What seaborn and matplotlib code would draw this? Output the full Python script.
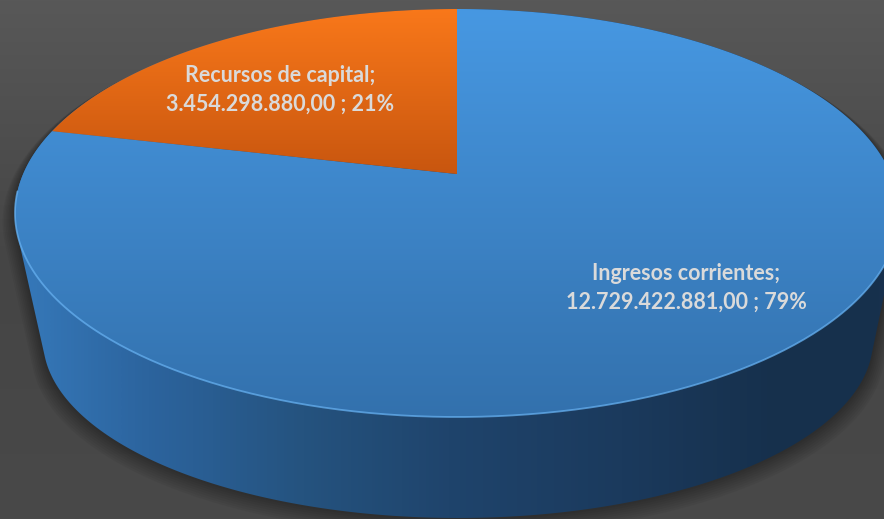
import numpy as np
import matplotlib
matplotlib.use("Agg")
import matplotlib.pyplot as plt
import seaborn as sns
from matplotlib.patches import Polygon
from matplotlib.colors import LinearSegmentedColormap

# data
categories = ["Ingresos corrientes", "Recursos de capital"]
values = [12729422881.00, 3454298880.00]

# look
TOP_COLORS = [("#4798e2", "#3371ad"), ("#f9781a", "#c8560f")]
SIDE_STOPS = [(0.0, "#3679ba"), (0.15, "#2c649e"), (0.33, "#25537f"),
              (0.5, "#1f446c"), (0.7, "#1b3a5d"), (0.88, "#16304c"), (1.0, "#17304d")]
TEXT_COLOR = "#dadada"

W, H = 884, 519
TOP = dict(cx=457, cy=213, a=442, b=204)
BOTTOM = dict(cx=458, cy=340, a=415, b=178)
K = 0.191          # perspective strength
LABEL_SHIFT = 4.5  # degrees
LABEL_FRAC = 0.68
LABEL_OFFSET = (5, -4)  # points

sns.set_theme(style="dark", rc={"axes.facecolor": "#4a4a4a", "figure.facecolor": "#4a4a4a"})
plt.rcParams["font.family"] = ["Lato", "DejaVu Sans"]


def project(theta_deg, level, frac=1.0):
    t = np.radians(theta_deg)
    x = frac * np.cos(t)
    y = frac * np.sin(t)
    w = 1 + K * y
    A = level["a"] * np.sqrt(1 - K ** 2)
    B = level["b"] * (1 - K ** 2)
    apex_y = level["cy"] - level["b"] * K
    return level["cx"] + A * x / w, apex_y - B * y / w


def hull(points):
    pts = sorted(set(map(tuple, np.round(points, 3))))
    def cross(o, a, b):
        return (a[0] - o[0]) * (b[1] - o[1]) - (a[1] - o[1]) * (b[0] - o[0])
    lower, upper = [], []
    for p in pts:
        while len(lower) >= 2 and cross(lower[-2], lower[-1], p) <= 0:
            lower.pop()
        lower.append(p)
    for p in reversed(pts):
        while len(upper) >= 2 and cross(upper[-2], upper[-1], p) <= 0:
            upper.pop()
        upper.append(p)
    return np.array(lower[:-1] + upper[:-1])


def gradient_fill(ax, poly_xy, cmap, horizontal=False, extent=None, zorder=2):
    patch = Polygon(poly_xy, closed=True, fc="none", ec="none", zorder=zorder)
    ax.add_patch(patch)
    g = np.linspace(0, 1, 256)
    grad = g[None, :] if horizontal else g[:, None]
    x0, x1, y0, y1 = extent
    im = ax.imshow(grad, extent=[x0, x1, y1, y0], cmap=cmap, aspect="auto",
                   interpolation="bilinear", zorder=zorder)
    im.set_clip_path(patch)
    return im


fig = plt.figure(figsize=(W / 100, H / 100), dpi=100)
ax = fig.add_axes([0, 0, 1, 1])

# background
bg = sns.blend_palette(["#585858", "#454545", "#494949"], as_cmap=True)
ax.imshow(np.linspace(0, 1, 256)[:, None], extent=[0, W, H, 0], cmap=bg,
          aspect="auto", zorder=0)

theta = np.linspace(0, 360, 721)
top_ring = np.column_stack(project(theta, TOP))
bot_ring = np.column_stack(project(theta, BOTTOM))
body = hull(np.vstack([top_ring, bot_ring]))

# soft shadow around the body
c = body.mean(axis=0)
for i in range(8, 0, -1):
    grow = body + (body - c) * 0.0035 * i + np.array([0, 1.2 * i])
    ax.add_patch(Polygon(grow, closed=True, fc="black", ec="none", alpha=0.045, zorder=1))

# side of the cylinder
side_cmap = LinearSegmentedColormap.from_list("side", SIDE_STOPS)
gradient_fill(ax, body, side_cmap, horizontal=True, extent=(15, 884, 0, H), zorder=2)

# top faces
total = sum(values)
start = 90.0
mids = []
apex = project(0, TOP, frac=0.0)
for val, (c_top, c_bot) in zip(values, TOP_COLORS):
    span = 360.0 * val / total
    arc = np.linspace(start, start - span, 400)
    ax_, ay_ = project(arc, TOP)
    poly = np.vstack([[apex[0], apex[1]], np.column_stack([ax_, ay_])])
    cmap = sns.blend_palette([c_top, c_bot], as_cmap=True)
    gradient_fill(ax, poly, cmap, extent=(0, W, poly[:, 1].min(), poly[:, 1].max()), zorder=3)
    mids.append(start - span / 2)
    start -= span

# rim highlight along the front edge
rim = np.linspace(185, 355, 300)
rx, ry = project(rim, TOP)
ax.plot(rx, ry, color="#66b0f0", lw=1.3, alpha=0.75, zorder=4, solid_capstyle="round")


def es_number(v):
    s = f"{v:,.2f}"
    return s.replace(",", "X").replace(".", ",").replace("X", ".")


for name, val, mid in zip(categories, values, mids):
    lx, ly = project(mid + LABEL_SHIFT, TOP, frac=LABEL_FRAC)
    pct = round(100 * val / total)
    ax.annotate(f"{name};\n{es_number(val)} ; {pct}%", xy=(lx, ly),
                xytext=LABEL_OFFSET, textcoords="offset points",
                ha="center", va="center", color=TEXT_COLOR, fontsize=15.5,
                fontweight="bold", linespacing=1.45, zorder=5)

ax.set_xlim(0, W)
ax.set_ylim(H, 0)
ax.axis("off")
fig.savefig("out.png", dpi=100)
